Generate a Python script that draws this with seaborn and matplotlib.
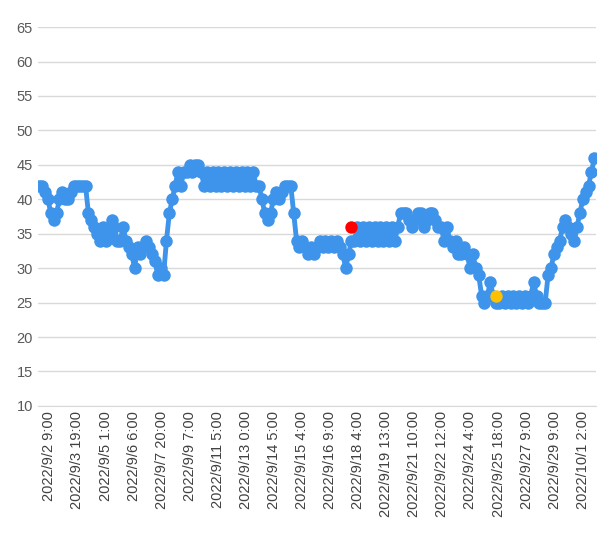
import matplotlib
matplotlib.use("Agg")
import matplotlib.pyplot as plt
import seaborn as sns
import numpy as np
import pandas as pd

values = [42, 42, 41, 40, 38, 37, 38, 40, 41, 40,
          40, 41, 42, 42, 42, 42, 42, 38, 37, 36,
          35, 34, 36, 34, 35, 37, 36, 34, 34, 36,
          34, 33, 32, 30, 33, 32, 33, 34, 33, 32,
          31, 29, 30, 29, 34, 38, 40, 42, 44, 42,
          44, 44, 45, 44, 45, 45, 44, 42, 44, 42,
          44, 42, 44, 42, 44, 42, 44, 42, 44, 42,
          44, 42, 44, 42, 44, 42, 42, 40, 38, 37,
          38, 40, 41, 40, 41, 42, 42, 42, 38, 34,
          33, 34, 33, 32, 33, 32, 33, 34, 33, 34,
          33, 34, 33, 34, 33, 32, 30, 32, 34, 34,
          36, 34, 36, 34, 36, 34, 36, 34, 36, 34,
          36, 34, 36, 34, 36, 38, 38, 38, 37, 36,
          37, 38, 38, 36, 37, 38, 38, 37, 36, 36,
          34, 36, 34, 33, 34, 32, 32, 33, 32, 30,
          32, 30, 29, 26, 25, 26, 28, 26, 25, 25,
          26, 25, 26, 25, 26, 25, 26, 25, 26, 25,
          26, 28, 26, 25, 25, 25, 29, 30, 32, 33,
          34, 36, 37, 36, 35, 34, 36, 38, 40, 41,
          42, 44, 46]

tick_labels = ["2022/9/2 9:00", "2022/9/3 19:00", "2022/9/5 1:00", "2022/9/6 6:00",
               "2022/9/7 20:00", "2022/9/9 7:00", "2022/9/11 5:00", "2022/9/13 0:00",
               "2022/9/14 5:00", "2022/9/15 4:00", "2022/9/16 9:00", "2022/9/18 4:00",
               "2022/9/19 13:00", "2022/9/21 10:00", "2022/9/22 12:00", "2022/9/24 4:00",
               "2022/9/25 18:00", "2022/9/27 9:00", "2022/9/29 9:00", "2022/10/1 2:00"]

red_idx, red_value = 108, 36
yellow_idx, yellow_value = 158, 26

df = pd.DataFrame({"idx": np.arange(len(values)), "value": values})

sns.set_style("white")
plt.rcParams["font.family"] = ["Liberation Sans", "DejaVu Sans"]

fig = plt.figure(figsize=(6, 5.53), dpi=100)
ax = fig.add_axes([0.063, 0.266, 0.93, 0.685])

blue = "#3d94ea"
sns.lineplot(data=df, x="idx", y="value", ax=ax, color=blue, linewidth=3.5,
             marker="o", markersize=9, markeredgewidth=0, zorder=3)
ax.scatter([red_idx], [red_value], color="#ff0000", s=80, zorder=5, linewidths=0)
ax.scatter([yellow_idx], [yellow_value], color="#ffc000", s=80, zorder=5, linewidths=0)

n = len(values)
ax.set_xlim(-0.5, n - 0.5)
ax.set_ylim(10, 65)
ax.set_yticks(range(10, 70, 5))
ticks = np.linspace(3.5, n - 5, len(tick_labels))
ax.set_xticks(ticks)
ax.set_xticklabels(tick_labels, rotation=90, fontsize=10.5, color="#404040")
ax.tick_params(axis="y", labelsize=10.5, labelcolor="#595959", length=0)
ax.tick_params(axis="x", length=0)
ax.yaxis.grid(True, color="#d9d9d9", linewidth=1)
ax.set_axisbelow(True)
for s in ["top", "right", "left"]:
    ax.spines[s].set_visible(False)
ax.spines["bottom"].set_color("#d9d9d9")
ax.set_xlabel("")
ax.set_ylabel("")

fig.savefig("out.png", dpi=100)
